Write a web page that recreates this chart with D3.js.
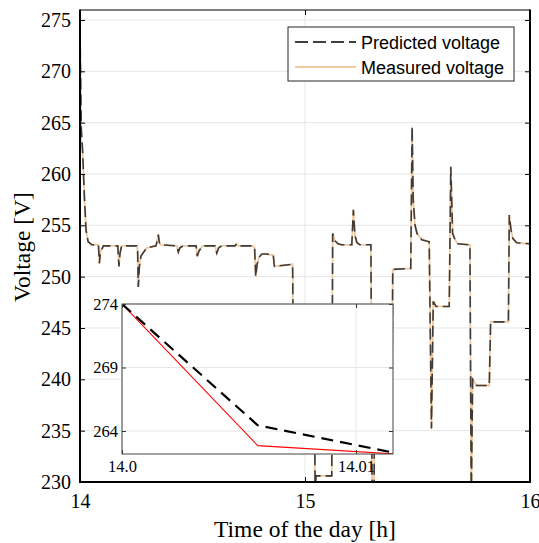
<!DOCTYPE html>
<html>
<head>
<meta charset="utf-8">
<script src="https://cdn.jsdelivr.net/npm/d3@7/dist/d3.min.js"></script>
<style>
  body { margin: 0; background: #fff; }
</style>
</head>
<body>
<div id="chart"></div>
<script>
// Time of the day [h]
const timeHours = [
  14.0000, 14.0058, 14.0116, 14.020, 14.027, 14.036, 14.053, 14.082, 14.086, 14.091,
  14.104, 14.168, 14.173, 14.178, 14.185, 14.252, 14.256, 14.259, 14.264, 14.271,
  14.296, 14.338, 14.348, 14.353, 14.359, 14.430, 14.437, 14.444, 14.458, 14.516,
  14.521, 14.529, 14.545, 14.600, 14.608, 14.616, 14.630, 14.689, 14.696, 14.704,
  14.770, 14.776, 14.781, 14.787, 14.796, 14.809, 14.830, 14.859, 14.864, 14.945,
  14.949, 15.042, 15.045, 15.049, 15.119, 15.123, 15.133, 15.147, 15.163, 15.208,
  15.215, 15.222, 15.231, 15.244, 15.293, 15.298, 15.307, 15.309, 15.387, 15.390,
  15.470, 15.476, 15.481, 15.489, 15.498, 15.519, 15.552, 15.562, 15.570, 15.582,
  15.641, 15.648, 15.656, 15.667, 15.680, 15.733, 15.739, 15.745, 15.763, 15.819,
  15.825, 15.904, 15.908, 15.916, 15.924, 15.941, 16.000
];

// Predicted voltage [V]
const predictedVoltage = [
  274.0, 264.45, 262.3, 257.5, 254.5, 253.4, 253.1, 253.1, 251.3, 252.4,
  253.0, 253.0, 251.0, 252.3, 253.0, 253.0, 252.6, 249.0, 251.0, 252.0,
  252.8, 253.0, 254.1, 253.3, 253.1, 253.0, 252.4, 252.8, 253.0, 253.0,
  252.0, 252.5, 253.0, 253.0, 252.3, 252.8, 253.0, 253.0, 253.2, 253.0,
  253.0, 252.8, 250.0, 251.2, 251.9, 252.2, 252.2, 252.1, 251.0, 251.2,
  238.5, 238.5, 229.0, 230.6, 230.6, 254.2, 253.5, 253.2, 253.1, 253.1,
  256.5, 254.0, 253.3, 253.1, 253.1, 229.0, 229.0, 240.0, 240.0, 250.7,
  250.8, 264.6, 257.5, 255.0, 254.2, 253.6, 253.4, 235.2, 247.6, 247.1,
  247.1, 260.7, 254.2, 253.6, 253.2, 253.1, 228.0, 240.0, 239.4, 239.4,
  245.6, 245.6, 256.0, 254.5, 253.7, 253.3, 253.2
];

// Measured voltage [V]
const measuredVoltage = [
  274.0, 262.85, 262.2, 257.5, 254.5, 253.4, 253.1, 253.1, 251.3, 252.4,
  253.0, 253.0, 251.0, 252.3, 253.0, 253.0, 252.6, 249.0, 251.0, 252.0,
  252.8, 253.0, 254.1, 253.3, 253.1, 253.0, 252.4, 252.8, 253.0, 253.0,
  252.0, 252.5, 253.0, 253.0, 252.3, 252.8, 253.0, 253.0, 253.2, 253.0,
  253.0, 252.8, 250.0, 251.2, 251.9, 252.2, 252.2, 252.1, 251.0, 251.2,
  238.5, 238.5, 229.0, 230.6, 230.6, 254.2, 253.5, 253.2, 253.1, 253.1,
  256.5, 254.0, 253.3, 253.1, 253.1, 229.0, 229.0, 240.0, 240.0, 250.7,
  250.8, 264.6, 257.5, 255.0, 254.2, 253.6, 253.4, 235.2, 247.6, 247.1,
  247.1, 260.7, 254.2, 253.6, 253.2, 253.1, 228.0, 240.0, 239.4, 239.4,
  245.6, 245.6, 256.0, 254.5, 253.7, 253.3, 253.2
];

const seriesNames = ["Predicted voltage", "Measured voltage"];
const xTicks = [14, 15, 16];
const yTicks = [230, 235, 240, 245, 250, 255, 260, 265, 270, 275];
const insetXTicks = [14.0, 14.01];
const insetXLabels = ["14.0", "14.01"];
const insetYTicks = [274, 269, 264];

// Layout and styles
const config = {
  width: 539,
  height: 543,
  plot: { left: 80, top: 10, right: 530, bottom: 482 },
  xDomain: [14, 16],
  yDomain: [230, 275.97],
  inset: { left: 122, top: 304, right: 393, bottom: 454 },
  insetXDomain: [14.0, 14.01158],
  insetYDomain: [262.19, 274],
  gridColor: "#e6e6e6",
  predictedColor: "#413a35",
  measuredColor: "#efc9a1",
  serif: "'Liberation Serif', 'Times New Roman', serif",
  sans: "'Liberation Sans', Arial, sans-serif",
};

const P = config.plot;
const I = config.inset;

const svg = d3.select("#chart")
  .append("svg")
  .attr("width", config.width)
  .attr("height", config.height);

const defs = svg.append("defs");
defs.append("clipPath").attr("id", "clip-main")
  .append("rect")
  .attr("x", P.left).attr("y", P.top)
  .attr("width", P.right - P.left).attr("height", P.bottom - P.top);
defs.append("clipPath").attr("id", "clip-inset")
  .append("rect")
  .attr("x", I.left).attr("y", I.top)
  .attr("width", I.right - I.left).attr("height", I.bottom - I.top);

// Scales
const x = d3.scaleLinear().domain(config.xDomain).range([P.left, P.right]);
const y = d3.scaleLinear().domain(config.yDomain).range([P.bottom, P.top]);
const xi = d3.scaleLinear().domain(config.insetXDomain).range([I.left, I.right]);
const yi = d3.scaleLinear().domain(config.insetYDomain).range([I.bottom, I.top]);

const predicted = d3.zip(timeHours, predictedVoltage);
const measured = d3.zip(timeHours, measuredVoltage);

const lineMain = d3.line().x(d => x(d[0])).y(d => y(d[1]));
const lineInset = d3.line().x(d => xi(d[0])).y(d => yi(d[1]));

// Grid of the main plot
const grid = svg.append("g");
grid.selectAll(".hgrid").data(yTicks).join("line")
  .attr("x1", P.left).attr("x2", P.right)
  .attr("y1", d => y(d)).attr("y2", d => y(d))
  .attr("stroke", config.gridColor).attr("stroke-width", 1);
grid.selectAll(".vgrid").data(xTicks).join("line")
  .attr("x1", d => x(d)).attr("x2", d => x(d))
  .attr("y1", P.top).attr("y2", P.bottom)
  .attr("stroke", config.gridColor).attr("stroke-width", 1);

// Series of the main plot
const series = svg.append("g").attr("clip-path", "url(#clip-main)");
series.append("path")
  .datum(measured)
  .attr("d", lineMain)
  .attr("fill", "none")
  .attr("stroke", config.measuredColor)
  .attr("stroke-width", 1.8);
series.append("path")
  .datum(predicted)
  .attr("d", lineMain)
  .attr("fill", "none")
  .attr("stroke", config.predictedColor)
  .attr("stroke-width", 1.6)
  .attr("stroke-dasharray", "11,5");

// Axes (inward ticks, labels outside)
function styleAxis(sel, font, size) {
  sel.select(".domain").remove();
  sel.selectAll("line").attr("stroke", "#000");
  sel.selectAll("text").attr("fill", "#000").style("font-family", font).style("font-size", size + "px");
}

svg.append("g")
  .attr("transform", `translate(${P.left},0)`)
  .call(d3.axisLeft(y).tickValues(yTicks).tickSize(-5).tickPadding(9))
  .call(styleAxis, config.serif, 20);
svg.append("g")
  .attr("transform", `translate(${P.right},0)`)
  .call(d3.axisRight(y).tickValues(yTicks).tickSize(-5).tickFormat(""))
  .call(styleAxis, config.serif, 20);
svg.append("g")
  .attr("transform", `translate(0,${P.bottom})`)
  .call(d3.axisBottom(x).tickValues(xTicks).tickSize(-5).tickPadding(12).tickFormat(d3.format("d")))
  .call(styleAxis, config.serif, 20);
svg.append("g")
  .attr("transform", `translate(0,${P.top})`)
  .call(d3.axisTop(x).tickValues(xTicks).tickSize(-5).tickFormat(""))
  .call(styleAxis, config.serif, 20);

// Frame
const frame = svg.append("g").attr("stroke", "#000").attr("fill", "none");
frame.append("line").attr("x1", P.left).attr("x2", P.right).attr("y1", P.top).attr("y2", P.top).attr("stroke-width", 1.2);
frame.append("line").attr("x1", P.left).attr("x2", P.left).attr("y1", P.top - 0.6).attr("y2", P.bottom + 1).attr("stroke-width", 2);
frame.append("line").attr("x1", P.right).attr("x2", P.right).attr("y1", P.top - 0.6).attr("y2", P.bottom + 1).attr("stroke-width", 2);
frame.append("line").attr("x1", P.left - 1).attr("x2", P.right + 1).attr("y1", P.bottom).attr("y2", P.bottom).attr("stroke-width", 2);

// Axis titles
svg.append("text")
  .attr("x", (P.left + P.right) / 2)
  .attr("y", 537)
  .attr("text-anchor", "middle")
  .style("font-family", config.serif)
  .style("font-size", "23.5px")
  .text("Time of the day [h]");
svg.append("text")
  .attr("transform", `translate(30,247) rotate(-90)`)
  .attr("text-anchor", "middle")
  .style("font-family", config.serif)
  .style("font-size", "23.5px")
  .text("Voltage [V]");

// Legend
const legend = svg.append("g");
legend.append("rect")
  .attr("x", 288).attr("y", 27).attr("width", 226).attr("height", 54)
  .attr("fill", "#fff").attr("stroke", "#262626").attr("stroke-width", 1);
const legendRows = [
  { name: seriesNames[0], color: "#000", dash: "13,5", width: 1.6, y: 42 },
  { name: seriesNames[1], color: config.measuredColor, dash: null, width: 1.8, y: 67 },
];
legendRows.forEach(r => {
  legend.append("line")
    .attr("x1", 295).attr("x2", 356).attr("y1", r.y).attr("y2", r.y)
    .attr("stroke", r.color).attr("stroke-width", r.width)
    .attr("stroke-dasharray", r.dash);
  legend.append("text")
    .attr("x", 361).attr("y", r.y + 7)
    .style("font-family", config.sans)
    .style("font-size", "18px")
    .attr("fill", "#000")
    .text(r.name);
});

// Inset (zoom on the first seconds)
const inset = svg.append("g");
inset.append("rect")
  .attr("x", I.left).attr("y", I.top)
  .attr("width", I.right - I.left).attr("height", I.bottom - I.top)
  .attr("fill", "#fff");
inset.selectAll(".ihgrid").data(insetYTicks).join("line")
  .attr("x1", I.left).attr("x2", I.right)
  .attr("y1", d => yi(d)).attr("y2", d => yi(d))
  .attr("stroke", config.gridColor).attr("stroke-width", 1);
inset.selectAll(".ivgrid").data(insetXTicks).join("line")
  .attr("x1", d => xi(d)).attr("x2", d => xi(d))
  .attr("y1", I.top).attr("y2", I.bottom)
  .attr("stroke", config.gridColor).attr("stroke-width", 1);

const insetSeries = inset.append("g").attr("clip-path", "url(#clip-inset)");
insetSeries.append("path")
  .datum(measured)
  .attr("d", lineInset)
  .attr("fill", "none")
  .attr("stroke", "#ff0000")
  .attr("stroke-width", 1.1);
insetSeries.append("path")
  .datum(predicted)
  .attr("d", lineInset)
  .attr("fill", "none")
  .attr("stroke", "#000")
  .attr("stroke-width", 2.2)
  .attr("stroke-dasharray", "12,7");

inset.append("g")
  .attr("transform", `translate(${I.left},0)`)
  .call(d3.axisLeft(yi).tickValues(insetYTicks).tickSize(-4).tickPadding(4))
  .call(styleAxis, config.serif, 16.5);
inset.append("g")
  .attr("transform", `translate(${I.right},0)`)
  .call(d3.axisRight(yi).tickValues(insetYTicks).tickSize(-4).tickFormat(""))
  .call(styleAxis, config.serif, 16.5);
inset.append("g")
  .attr("transform", `translate(0,${I.bottom})`)
  .call(d3.axisBottom(xi).tickValues(insetXTicks).tickSize(-4).tickPadding(6)
    .tickFormat((d, i) => insetXLabels[i]))
  .call(styleAxis, config.serif, 16.5);
inset.append("g")
  .attr("transform", `translate(0,${I.top})`)
  .call(d3.axisTop(xi).tickValues(insetXTicks).tickSize(-4).tickFormat(""))
  .call(styleAxis, config.serif, 16.5);
inset.selectAll("line").filter(function () { return this.parentNode.classList.contains("tick"); })
  .attr("stroke", "#333");

inset.append("rect")
  .attr("x", I.left).attr("y", I.top)
  .attr("width", I.right - I.left).attr("height", I.bottom - I.top)
  .attr("fill", "none").attr("stroke", "#444").attr("stroke-width", 1);
</script>
</body>
</html>
